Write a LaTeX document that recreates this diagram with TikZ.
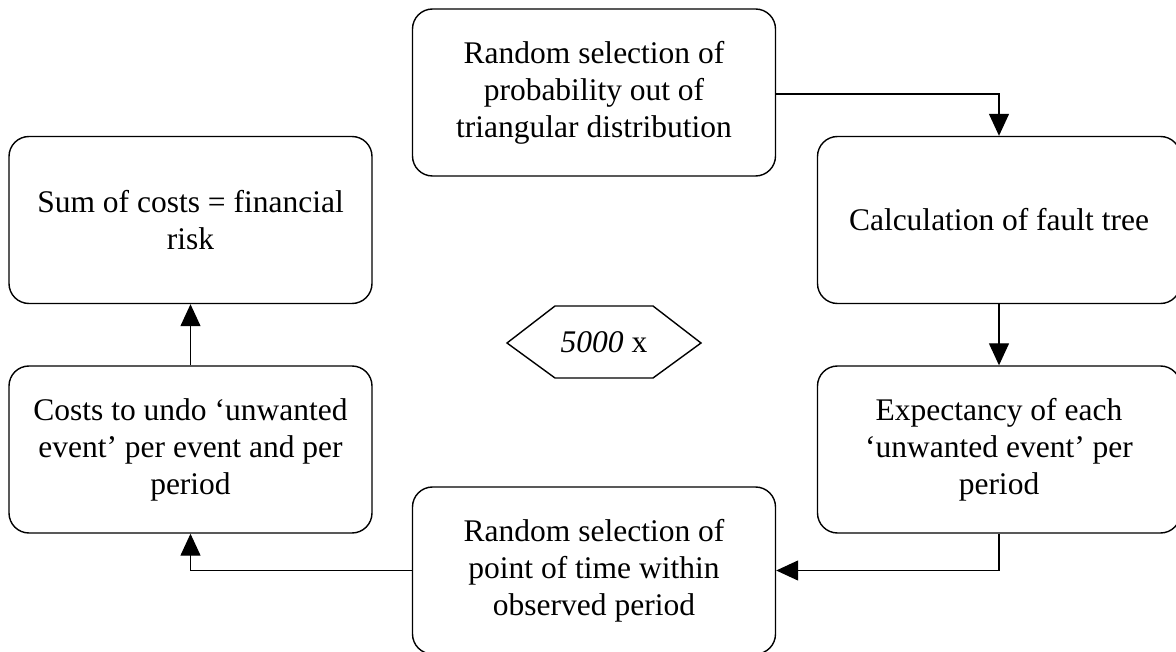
\documentclass[tikz,border=0pt]{standalone}
\usepackage{fontspec}
\setmainfont{Liberation Serif}
\usetikzlibrary{arrows.meta,calc}
\begin{document}
\begin{tikzpicture}[x=1pt,y=-1pt,
  flowbox/.style={draw,line width=1.4pt,rounded corners=20pt,minimum width=363pt,minimum height=167pt,align=center,font=\fontsize{31.5}{37}\selectfont,inner sep=0pt},
  flowarrow/.style={line width=1.3pt,-{Triangle[width=20pt,length=22pt]}},
  hexline/.style={line width=1.4pt}]
\useasboundingbox (0,0) rectangle (1176,652);
\node[flowbox] (top) at (594,92.5) {Random selection of\\probability out of\\triangular distribution};
\node[flowbox] (calc) at (999,220) {Calculation of fault tree};
\node[flowbox] (expect) at (999,449.5) {Expectancy of each\\‘unwanted event’ per\\period};
\node[flowbox] (bottom) at (594,570.5) {Random selection of\\point of time within\\observed period};
\node[flowbox] (costs) at (190.5,449.5) {Costs to undo ‘unwanted\\event’ per event and per\\period};
\node[flowbox] (sum) at (190.5,220) {Sum of costs = financial\\risk};
\node[font=\fontsize{31.5}{37}\selectfont,inner sep=0pt] (hex) at (604,342) {\textit{5000} x};
\draw[hexline] ($(hex.center)+(-97,1)$) -- ($(hex.center)+(-49,-36)$) -- ($(hex.center)+(49,-36)$) -- ($(hex.center)+(97,1)$) -- ($(hex.center)+(49,36)$) -- ($(hex.center)+(-49,36)$) -- cycle;
\draw[flowarrow] (top.east |- 0,94) -| (calc.north);
\draw[flowarrow] (calc.south) -- (expect.north);
\draw[flowarrow] (expect.south) |- (bottom.east);
\draw[flowarrow] (bottom.west) -| (costs.south);
\draw[flowarrow] (costs.north) -- (sum.south);
\end{tikzpicture}
\end{document}
